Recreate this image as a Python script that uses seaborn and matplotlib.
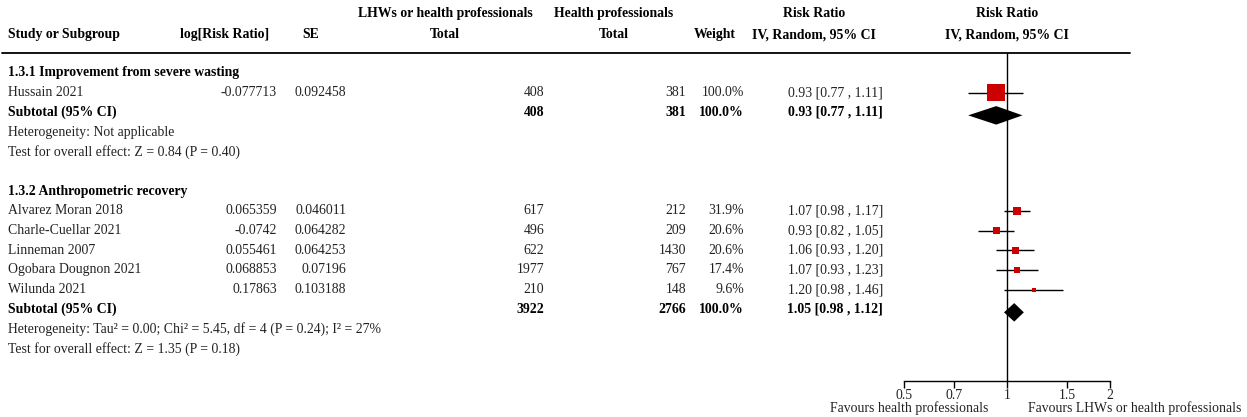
import matplotlib
matplotlib.use("Agg")
import matplotlib.pyplot as plt
import seaborn as sns
import numpy as np

# ---- data ----
group_titles = ["1.3.1 Improvement from severe wasting", "1.3.2 Anthropometric recovery"]

studies = ["Hussain 2021",
           "Alvarez Moran 2018", "Charle-Cuellar 2021", "Linneman 2007",
           "Ogobara Dougnon 2021", "Wilunda 2021"]
study_group = [0, 1, 1, 1, 1, 1]
log_rr = [-0.077713, 0.065359, -0.0742, 0.055461, 0.068853, 0.17863]
se = [0.092458, 0.046011, 0.064282, 0.064253, 0.07196, 0.103188]
n_lhw = [408, 617, 496, 622, 1977, 210]
n_hp = [381, 212, 209, 1430, 767, 148]
weight = [100.0, 31.9, 20.6, 20.6, 17.4, 9.6]
rr = [0.93, 1.07, 0.93, 1.06, 1.07, 1.20]
ci_lo = [0.77, 0.98, 0.82, 0.93, 0.93, 0.98]
ci_hi = [1.11, 1.17, 1.05, 1.20, 1.23, 1.46]

sub_n_lhw = [408, 3922]
sub_n_hp = [381, 2766]
sub_weight = [100.0, 100.0]
sub_rr = [0.93, 1.05]
sub_lo = [0.77, 0.98]
sub_hi = [1.11, 1.12]
heterogeneity = ["Heterogeneity: Not applicable",
                 "Heterogeneity: Tau\u00b2 = 0.00; Chi\u00b2 = 5.45, df = 4 (P = 0.24); I\u00b2 = 27%"]
overall = ["Test for overall effect: Z = 0.84 (P = 0.40)",
           "Test for overall effect: Z = 1.35 (P = 0.18)"]

ticks = [0.5, 0.7, 1, 1.5, 2]
tick_labels = ["0.5", "0.7", "1", "1.5", "2"]
favour_left = "Favours health professionals"
favour_right = "Favours LHWs or health professionals"

# ---- layout ----
sns.set_theme(style="white")
plt.rcParams['font.family'] = ['Liberation Serif', 'DejaVu Serif']
FS = 9.9
W, H = 1247, 417
ROW0, STEP = 73, 19.7


def row(ypx):
    return (ypx - ROW0) / STEP


fig = plt.figure(figsize=(W / 100, H / 100), dpi=100)
ax = fig.add_axes([0, 0, 1, 1])
ax.set_xlim(0, W)
ax.set_ylim(row(H), row(0))
ax.axis("off")

txt = "#222222"


def put(x, y, s, ha="left", bold=False, color=None):
    ax.text(x, y, s, ha=ha, va="center", fontsize=FS,
            fontweight="bold" if bold else "normal",
            color=color or ("black" if bold else txt))


# headers
h1, h2 = row(14), row(35)
put(8, h2, "Study or Subgroup", bold=True)
put(225, h2, "log[Risk Ratio]", ha="center", bold=True)
put(311, h2, "SE", ha="center", bold=True)
put(445, h1, "LHWs or health professionals", ha="center", bold=True)
put(445, h2, "Total", ha="center", bold=True)
put(614, h1, "Health professionals", ha="center", bold=True)
put(614, h2, "Total", ha="center", bold=True)
put(715, h2, "Weight", ha="center", bold=True)
put(814, h1, "Risk Ratio", ha="center", bold=True)
put(814, h2, "IV, Random, 95% CI", ha="center", bold=True)
put(1007, h1, "Risk Ratio", ha="center", bold=True)
put(1007, h2, "IV, Random, 95% CI", ha="center", bold=True)
ax.plot([2, 1130], [row(53), row(53)], color="black", lw=1.3)

# rows
rows_study, rows_sub = [], []
r = 0
for g, title in enumerate(group_titles):
    put(8, r, title, bold=True)
    r += 1
    for i in [k for k, sg in enumerate(study_group) if sg == g]:
        put(8, r, studies[i])
        put(277, r, str(log_rr[i]), ha="right")
        put(346, r, str(se[i]), ha="right")
        put(544, r, str(n_lhw[i]), ha="right")
        put(686, r, str(n_hp[i]), ha="right")
        put(744, r, f"{weight[i]:.1f}%", ha="right")
        put(883, r, f"{rr[i]:.2f} [{ci_lo[i]:.2f} , {ci_hi[i]:.2f}]", ha="right")
        rows_study.append(r)
        r += 1
    put(8, r, "Subtotal (95% CI)", bold=True)
    put(544, r, str(sub_n_lhw[g]), ha="right", bold=True)
    put(686, r, str(sub_n_hp[g]), ha="right", bold=True)
    put(744, r, f"{sub_weight[g]:.1f}%", ha="right", bold=True)
    put(883, r, f"{sub_rr[g]:.2f} [{sub_lo[g]:.2f} , {sub_hi[g]:.2f}]", ha="right", bold=True)
    rows_sub.append(r)
    r += 1
    put(8, r, heterogeneity[g])
    r += 1
    put(8, r, overall[g])
    r += 2

# ---- forest panel ----
top_px, bot_px = 53, 381
fx = fig.add_axes([904 / W, (H - bot_px) / H, 206 / W, (bot_px - top_px) / H])
fx.set_xscale("log")
fx.set_xlim(ticks[0], ticks[-1])
fx.set_ylim(row(bot_px), row(top_px))
fx.patch.set_alpha(0)
for s in ["top", "left", "right"]:
    fx.spines[s].set_visible(False)
fx.spines["bottom"].set_color("black")
fx.spines["bottom"].set_linewidth(1.0)
fx.set_yticks([])
fx.minorticks_off()
fx.set_xticks(ticks)
fx.set_xticklabels(tick_labels, fontsize=FS)
fx.tick_params(axis="x", direction="out", length=5, width=1, color="black",
               bottom=True, pad=1, labelcolor=txt)
fx.axvline(1, color="black", lw=1.0, zorder=1)

# CI lines and squares
fx.hlines(rows_study, ci_lo, ci_hi, color="black", lw=1.0, zorder=2)
side_px = 1.1 * np.array(weight) ** 0.6
sns.scatterplot(x=rr, y=rows_study, ax=fx, marker="s", color="#cc0000",
                s=(side_px * 0.72) ** 2, linewidth=0, zorder=3, legend=False)

# diamonds
for g, ry in enumerate(rows_sub):
    yc = ry + 0.15
    hh = 0.47
    fx.fill([sub_lo[g], sub_rr[g], sub_hi[g], sub_rr[g]],
            [yc, yc - hh, yc, yc + hh], color="black", lw=0, zorder=3)

ax.text(988, row(408), favour_left, ha="right", va="center", fontsize=FS, color=txt)
ax.text(1028, row(408), favour_right, ha="left", va="center", fontsize=FS, color=txt)

fig.savefig("out.png", dpi=100)
